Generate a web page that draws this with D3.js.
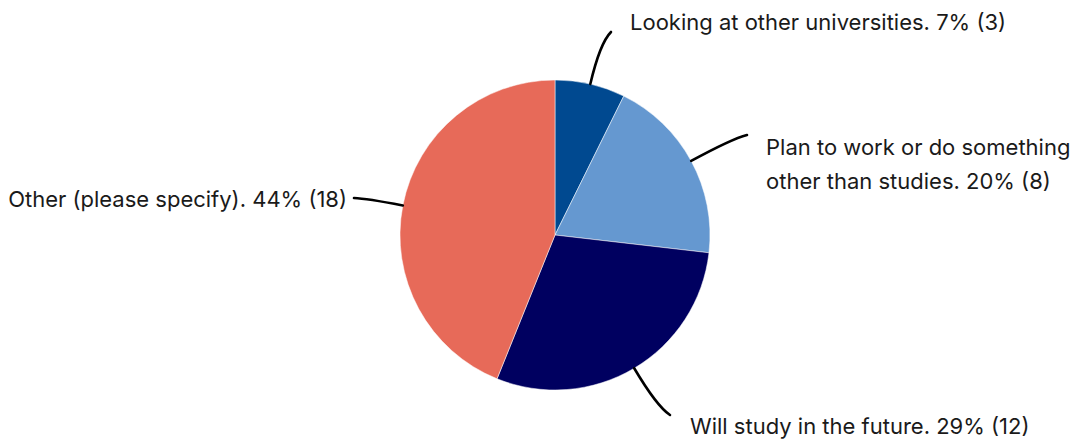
<!DOCTYPE html>
<html>
<head>
<meta charset="utf-8">
<script src="https://cdn.jsdelivr.net/npm/d3@7"></script>
<style>
  html, body { margin: 0; padding: 0; background: #fff; }
  svg { display: block; }
  text { font-family: Inter, "Noto Sans", sans-serif; fill: #1a1a1a; }
</style>
</head>
<body>
<svg id="chart" width="1080" height="439"></svg>
<script>
// Survey answers, in drawing order (clockwise from 12 o'clock)
const categories = [
  "Looking at other universities",
  "Plan to work or do something other than studies",
  "Will study in the future",
  "Other (please specify)"
];
const counts = [3, 8, 12, 18];
const colors = ["#004990", "#6598d0", "#000060", "#e76a59"];

// Label layout: leader end point, text anchor and line breaks
const labelLayout = [
  { end: [611, 32], tx: 630, ty: 30, anchor: "start", lines: 1 },
  { end: [747, 135], tx: 766, ty: 155, anchor: "start", lines: 2, breakAfter: "something" },
  { end: [670, 415], tx: 690, ty: 434, anchor: "start", lines: 1 },
  { end: [354, 198], tx: 347, ty: 207, anchor: "end", lines: 1 }
];

const W = 1080, H = 439;
const cx = 555, cy = 235, R = 155;
const total = d3.sum(counts);

const svg = d3.select("#chart");
const g = svg.append("g").attr("transform", `translate(${cx},${cy})`);

const pie = d3.pie().sort(null).value(d => d)(counts);
const arc = d3.arc().innerRadius(0).outerRadius(R);

g.selectAll("path.slice")
  .data(pie)
  .join("path")
  .attr("class", "slice")
  .attr("d", arc)
  .attr("fill", (d, i) => colors[i])
  .attr("stroke", "#fff")
  .attr("stroke-width", 0.5);

// Leader lines: quadratic curves leaving the rim radially, bending towards the label
pie.forEach((d, i) => {
  const a = (d.startAngle + d.endAngle) / 2;
  const ux = Math.sin(a), uy = -Math.cos(a);
  const sx = cx + ux * R, sy = cy + uy * R;
  const [ex, ey] = labelLayout[i].end;
  const dist = Math.hypot(ex - sx, ey - sy);
  const k = dist * 0.75;
  const qx = sx + ux * k, qy = sy + uy * k;
  const p = d3.path();
  p.moveTo(sx, sy);
  p.quadraticCurveTo(qx, qy, ex, ey);
  svg.append("path")
    .attr("d", p.toString())
    .attr("fill", "none")
    .attr("stroke", "#000")
    .attr("stroke-width", 2.6)
    .attr("stroke-linecap", "round");
});

// Labels: "<category>. <percent>% (<count>)"
pie.forEach((d, i) => {
  const L = labelLayout[i];
  const pct = Math.round(counts[i] / total * 100);
  const full = `${categories[i]}. ${pct}% (${counts[i]})`;
  const t = svg.append("text")
    .attr("x", L.tx).attr("y", L.ty)
    .attr("text-anchor", L.anchor)
    .style("font-size", "22px");
  if (L.lines === 2) {
    const cut = full.indexOf(L.breakAfter) + L.breakAfter.length;
    t.append("tspan").attr("x", L.tx).text(full.slice(0, cut));
    t.append("tspan").attr("x", L.tx).attr("dy", 34).text(full.slice(cut).trim());
  } else {
    t.text(full);
  }
});
</script>
</body>
</html>
